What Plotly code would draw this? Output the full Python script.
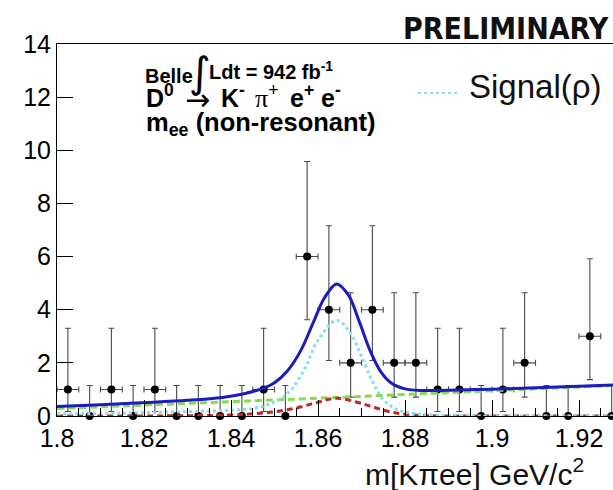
import plotly.graph_objects as go

# ---- data: D0 -> K- pi+ e+ e- candidates, 5 MeV bins ----
bin_centers = [1.8025, 1.8075, 1.8125, 1.8175, 1.8225, 1.8275, 1.8325, 1.8375,
               1.8425, 1.8475, 1.8525, 1.8575, 1.8625, 1.8675, 1.8725, 1.8775,
               1.8825, 1.8875, 1.8925, 1.8975, 1.9025, 1.9075, 1.9125, 1.9175,
               1.9225, 1.9275]
counts = [1, 0, 1, 0, 1, 0, 0, 0,
          0, 1, 0, 6, 4, 2, 4, 2,
          2, 1, 1, 0, 1, 2, 0, 0,
          3, 0]
# asymmetric Poisson error bars
err_up = [2.30, 1.15, 2.30, 1.15, 2.30, 1.15, 1.15, 1.15,
          1.15, 2.30, 1.15, 3.58, 3.16, 2.64, 3.16, 2.64,
          2.64, 2.30, 2.30, 1.15, 2.30, 2.64, 1.15, 1.15,
          2.92, 1.15]
err_lo = [0.83, 0.0, 0.83, 0.0, 0.83, 0.0, 0.0, 0.0,
          0.0, 0.83, 0.0, 2.38, 1.91, 1.29, 1.91, 1.29,
          1.29, 0.83, 0.83, 0.0, 0.83, 1.29, 0.0, 0.0,
          1.63, 0.0]
half_width = [0.0025 if c > 0 else 0.0 for c in counts]

# ---- fit components ----
total_x = [1.800, 1.810, 1.820, 1.830, 1.838, 1.843, 1.847, 1.850, 1.853, 1.856,
           1.859, 1.8615, 1.8643, 1.867, 1.8695, 1.872, 1.8745, 1.877, 1.880,
           1.884, 1.890, 1.900, 1.910, 1.920, 1.928]
total_y = [0.36, 0.42, 0.50, 0.59, 0.70, 0.84, 1.02, 1.25, 1.70, 2.45,
           3.55, 4.45, 4.97, 4.55, 3.55, 2.45, 1.65, 1.22, 1.02,
           0.96, 0.97, 1.01, 1.06, 1.12, 1.17]

signal_x = [1.800, 1.815, 1.830, 1.840, 1.845, 1.848, 1.851, 1.854, 1.857, 1.860,
            1.8643, 1.8675, 1.870, 1.8725, 1.875, 1.8775, 1.880, 1.884, 1.890,
            1.900, 1.928]
signal_y = [0.08, 0.11, 0.16, 0.22, 0.28, 0.40, 0.60, 1.02, 1.80, 2.85,
            3.60, 3.10, 2.25, 1.30, 0.62, 0.30, 0.15, 0.06, 0.02,
            0.0, 0.0]

comb_x = [1.800, 1.820, 1.840, 1.860, 1.880, 1.900, 1.920, 1.928]
comb_y = [0.28, 0.41, 0.54, 0.67, 0.81, 0.95, 1.09, 1.15]

peak_x = [1.800, 1.830, 1.840, 1.845, 1.850, 1.855, 1.860, 1.8643, 1.869,
          1.873, 1.877, 1.881, 1.886, 1.900, 1.928]
peak_y = [0.0, 0.01, 0.04, 0.08, 0.16, 0.30, 0.52, 0.67, 0.52,
          0.32, 0.14, 0.05, 0.01, 0.0, 0.0]

x_tickvals = [1.80, 1.82, 1.84, 1.86, 1.88, 1.90, 1.92]
x_ticktext = ["1.8", "1.82", "1.84", "1.86", "1.88", "1.9", "1.92"]
y_tickvals = [0, 2, 4, 6, 8, 10, 12, 14]
y_ticktext = ["0", "2", "4", "6", "8", "10", "12", "14"]

# ---- canvas geometry (pixels) ----
W, H = 613, 490
ML, MR, MT, MB = 57, 0, 44, 74
PW, PH = W - ML - MR, H - MT - MB
X_PER_PX = 0.02 / 87.0
x_range = [1.8, 1.8 + PW * X_PER_PX]


def fx(px):
    return (px - ML) / PW


def fy(py):
    return (H - MB - py) / PH


SANS = "Liberation Sans, Arial, Helvetica, sans-serif"
SERIF = "Liberation Serif, Times New Roman, serif"

fig = go.Figure()

fig.add_trace(go.Scatter(
    x=bin_centers, y=counts, mode="markers",
    marker=dict(color="black", size=8),
    error_y=dict(type="data", symmetric=False, array=err_up, arrayminus=err_lo,
                 color="#4a4a4a", thickness=1.1, width=3),
    error_x=dict(type="data", array=half_width, color="#4a4a4a",
                 thickness=1.1, width=3),
    cliponaxis=False, showlegend=False,
))

fig.add_trace(go.Scatter(
    x=comb_x, y=comb_y, mode="lines", line_shape="spline",
    line=dict(color="#86dc4a", width=3, dash="7px,4px"), showlegend=False,
))
fig.add_trace(go.Scatter(
    x=peak_x, y=peak_y, mode="lines", line_shape="spline",
    line=dict(color="#c02828", width=3, dash="6px,4px"), showlegend=False,
))
fig.add_trace(go.Scatter(
    x=signal_x, y=signal_y, mode="lines", line_shape="spline",
    line=dict(color="#86e0e8", width=3, dash="3px,3px"), showlegend=False,
))
fig.add_trace(go.Scatter(
    x=total_x, y=total_y, mode="lines", line_shape="spline",
    line=dict(color="#1c1cc0", width=3), showlegend=False,
))

fig.update_xaxes(
    range=x_range, tickvals=x_tickvals, ticktext=x_ticktext,
    ticks="inside", ticklen=16, tickwidth=1, tickcolor="black",
    minor=dict(ticks="inside", dtick=0.005, tick0=1.8, ticklen=8,
               tickcolor="black", tickwidth=1),
    showline=True, linecolor="black", linewidth=1, mirror=True,
    showgrid=False, zeroline=False,
    tickfont=dict(family=SANS, size=25, color="black"),
)
fig.update_yaxes(
    range=[0, 14], tickvals=y_tickvals, ticktext=y_ticktext,
    ticks="inside", ticklen=16, tickwidth=1, tickcolor="black",
    showline=True, linecolor="black", linewidth=1,
    showgrid=False, zeroline=False,
    tickfont=dict(family=SANS, size=25, color="black"),
)


def label(text, px, py, size, family=SANS, anchor="left", color="black"):
    return dict(text=text, x=fx(px), y=fy(py), xanchor=anchor, yanchor="middle",
                xref="paper", yref="paper", showarrow=False,
                font=dict(family=family, size=size, color=color))


annotations = [
    label("<b>PRELIMINARY</b>", 611, 28, 30,
          family="Liberation Sans Narrow, DejaVu Sans Condensed, sans-serif",
          anchor="right", color="#111"),
    label("Signal(ρ)", 467, 86, 33, color="#111"),
    # luminosity line
    label("<b>Belle</b>", 143, 76, 20),
    label("∫", 200, 72, 42, family="DejaVu Sans, sans-serif", anchor="center"),
    label("<b>Ldt = 942 fb<sup>-1</sup></b>", 207, 70, 20),
    # decay line
    label("<b>D<sup>0</sup></b>", 144, 96, 25),
    label("→", 183, 99, 30, family="DejaVu Sans, sans-serif"),
    label("<b>K<sup>-</sup></b>", 219, 96, 25),
    label("π<b><sup>+</sup></b>", 253, 96, 26, family=SERIF),
    label("<b>e<sup>+</sup></b>", 288, 96, 25),
    label("<b>e<sup>-</sup></b>", 319, 96, 25),
    # selection line
    label("<b>m<sub>ee</sub> (non-resonant)</b>", 144, 124, 25.5),
    # x-axis title
    label("m[Kπee] GeV/c<sup>2</sup>", 586, 472, 30, anchor="right", color="#111"),
]

fig.update_layout(
    width=W, height=H,
    margin=dict(l=ML, r=MR, t=MT, b=MB, pad=0),
    paper_bgcolor="white", plot_bgcolor="white",
    annotations=annotations,
    shapes=[dict(type="line", xref="paper", yref="paper",
                 x0=fx(418), x1=fx(460), y0=fy(93), y1=fy(93),
                 line=dict(color="#86e0e8", width=2, dash="dot"))],
    showlegend=False,
)

fig.write_html("out.html")
